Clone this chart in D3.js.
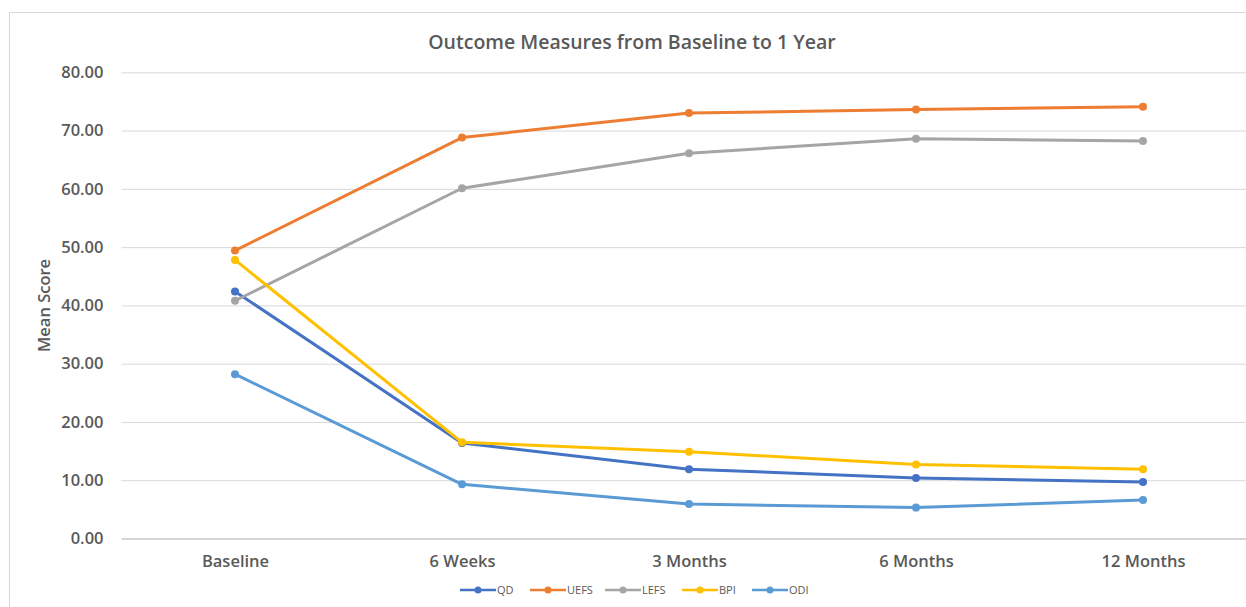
<!DOCTYPE html>
<html>
<head>
<meta charset="utf-8">
<script src="https://cdn.jsdelivr.net/npm/d3@7"></script>
<style>
  html, body { margin: 0; padding: 0; background: #fff; }
  svg { display: block; }
  text { font-family: "Open Sans", "Noto Sans", sans-serif; fill: #595959; }
</style>
</head>
<body>
<svg id="chart" width="1246" height="607"></svg>
<script>
// Time points and mean scores for each outcome measure
const categories = ["Baseline", "6 Weeks", "3 Months", "6 Months", "12 Months"];
const qd   = [42.4, 16.4, 11.9, 10.4, 9.7];
const uefs = [49.4, 68.8, 73.0, 73.6, 74.1];
const lefs = [40.8, 60.1, 66.1, 68.6, 68.2];
const bpi  = [47.8, 16.5, 14.9, 12.7, 11.9];
const odi  = [28.2, 9.3, 5.9, 5.3, 6.6];
const seriesNames = ["QD", "UEFS", "LEFS", "BPI", "ODI"];
const yTicks = [0, 10, 20, 30, 40, 50, 60, 70, 80];

const seriesValues = [qd, uefs, lefs, bpi, odi];
const colors = ["#4472C4", "#ED7D31", "#A5A5A5", "#FFC000", "#5B9BD5"];
const series = seriesNames.map((name, i) => ({ name, values: seriesValues[i], color: colors[i] }));

const svg = d3.select("#chart");

// chart frame
svg.append("rect")
  .attr("x", 9.5).attr("y", 12.5)
  .attr("width", 1260).attr("height", 620)
  .attr("fill", "#fff")
  .attr("stroke", "#d9d9d9").attr("stroke-width", 1);

const plot = { left: 121.5, right: 1256.5, top: 72.3, bottom: 538.5 };

const x = d3.scalePoint()
  .domain(categories)
  .range([plot.left, plot.right])
  .padding(0.5);

const y = d3.scaleLinear()
  .domain([0, 80])
  .range([plot.bottom, plot.top]);

// horizontal gridlines with value labels
const yAxis = d3.axisLeft(y)
  .tickValues(yTicks)
  .tickFormat(d3.format(".2f"))
  .tickSize(-(plot.right - plot.left))
  .tickPadding(18);

const gy = svg.append("g")
  .attr("transform", `translate(${plot.left},0)`)
  .call(yAxis);
gy.select(".domain").remove();
gy.selectAll(".tick line").attr("stroke", "#d9d9d9").attr("stroke-width", 1);
gy.selectAll(".tick text")
  .attr("font-size", 16.5).attr("font-weight", 600)
  .style("fill", "#595959");

// category axis
const xAxis = d3.axisBottom(x).tickSize(0).tickPadding(17);
const gx = svg.append("g")
  .attr("transform", `translate(0,${plot.bottom})`)
  .call(xAxis);
gx.select(".domain").attr("stroke", "#cfcfcf").attr("stroke-width", 1.3);
gx.selectAll(".tick text")
  .attr("font-size", 16.5).attr("font-weight", 600)
  .style("fill", "#595959");

// lines and markers
const line = d3.line()
  .x((d, i) => x(categories[i]))
  .y(d => y(d));

const groups = svg.append("g").selectAll("g")
  .data(series)
  .join("g");

groups.append("path")
  .attr("d", d => line(d.values))
  .attr("fill", "none")
  .attr("stroke", d => d.color)
  .attr("stroke-width", 3)
  .attr("stroke-linejoin", "round")
  .attr("stroke-linecap", "round");

groups.selectAll("circle")
  .data(d => d.values.map((v, i) => ({ v, i, color: d.color })))
  .join("circle")
  .attr("cx", d => x(categories[d.i]))
  .attr("cy", d => y(d.v))
  .attr("r", 4)
  .attr("fill", d => d.color);

// title
svg.append("text")
  .attr("x", 632).attr("y", 49)
  .attr("text-anchor", "middle")
  .attr("font-size", 19.5).attr("font-weight", 600)
  .text("Outcome Measures from Baseline to 1 Year");

// y axis title
svg.append("text")
  .attr("transform", `translate(50,${(plot.top + plot.bottom) / 2}) rotate(-90)`)
  .attr("text-anchor", "middle")
  .attr("font-size", 16.5).attr("font-weight", 600)
  .text("Mean Score");

// legend
const legendItemX = [460, 530, 605, 682, 752];
const legend = svg.append("g").attr("transform", "translate(0,590)");
const items = legend.selectAll("g")
  .data(series)
  .join("g")
  .attr("transform", (d, i) => `translate(${legendItemX[i]},0)`);
items.append("line")
  .attr("x1", 0).attr("x2", 36)
  .attr("stroke", d => d.color).attr("stroke-width", 2.5);
items.append("circle")
  .attr("cx", 18).attr("r", 3.5)
  .attr("fill", d => d.color);
items.append("text")
  .attr("x", 37).attr("dy", "0.35em")
  .attr("font-size", 11)
  .text(d => d.name);
</script>
</body>
</html>
